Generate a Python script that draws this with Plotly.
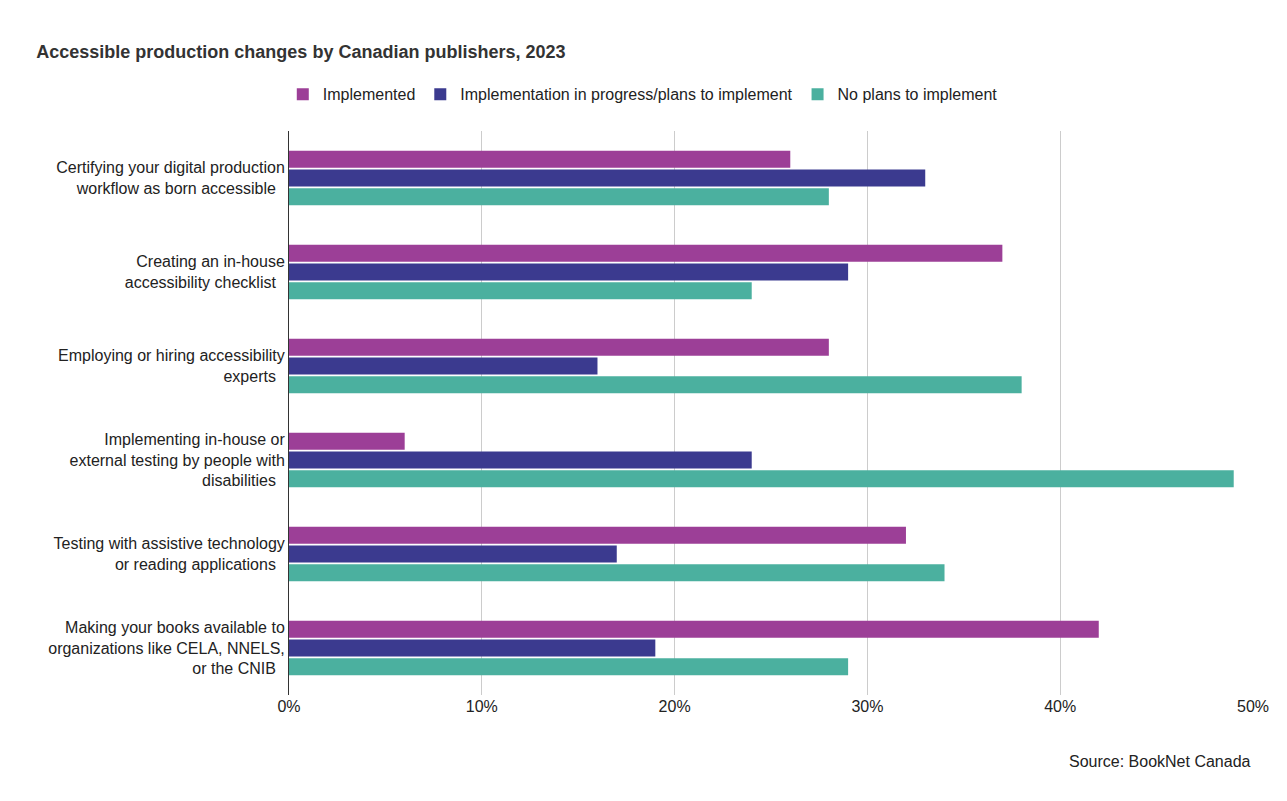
import plotly.graph_objects as go

categories = [
    "Certifying your digital production<br>workflow as born accessible",
    "Creating an in-house<br>accessibility checklist",
    "Employing or hiring accessibility<br>experts",
    "Implementing in-house or<br>external testing by people with<br>disabilities",
    "Testing with assistive technology<br>or reading applications",
    "Making your books available to<br>organizations like CELA, NNELS,<br>or the CNIB",
]
implemented = [0.26, 0.37, 0.28, 0.06, 0.32, 0.42]
in_progress = [0.33, 0.29, 0.16, 0.24, 0.17, 0.19]
no_plans = [0.28, 0.24, 0.38, 0.49, 0.34, 0.29]
series = [
    ("Implemented", implemented, "#9c3f97"),
    ("Implementation in progress/plans to implement", in_progress, "#3b3a8f"),
    ("No plans to implement", no_plans, "#4bb09f"),
]

fig = go.Figure()
for name, vals, col in series:
    fig.add_trace(go.Bar(y=categories, x=vals, name=name, orientation="h",
                         marker=dict(color=col, line=dict(width=0))))

fig.update_layout(
    width=1287, height=801,
    paper_bgcolor="white", plot_bgcolor="white",
    font=dict(family="Liberation Sans, Arial", size=16, color="#222"),
    title=dict(text="<b>Accessible production changes by Canadian publishers, 2023</b>",
               x=0.022, xanchor="left", y=0.945, yanchor="middle",
               font=dict(size=18, color="#333")),
    legend=dict(orientation="h", x=0.367, xanchor="center", y=1.065, yanchor="middle",
                font=dict(size=16), traceorder="normal"),
    margin=dict(l=281, r=42, t=123, b=114),
    barmode="group", bargap=0.4, bargroupgap=0.1,
    xaxis=dict(range=[0, 0.5], tickformat=".0%", dtick=0.1, showgrid=True,
               gridcolor="#cccccc", zeroline=False, ticks="", tickfont=dict(size=16)),
    yaxis=dict(autorange="reversed", showline=True, linecolor="#333", linewidth=1,
               ticks="", ticksuffix="  ", tickfont=dict(size=16)),
    annotations=[dict(text="Source: BookNet Canada", xref="paper", yref="paper",
                      x=1.0, xanchor="right", y=-0.118, yanchor="middle",
                      showarrow=False, font=dict(size=16, color="#222"))],
)
fig.write_html("out.html")
